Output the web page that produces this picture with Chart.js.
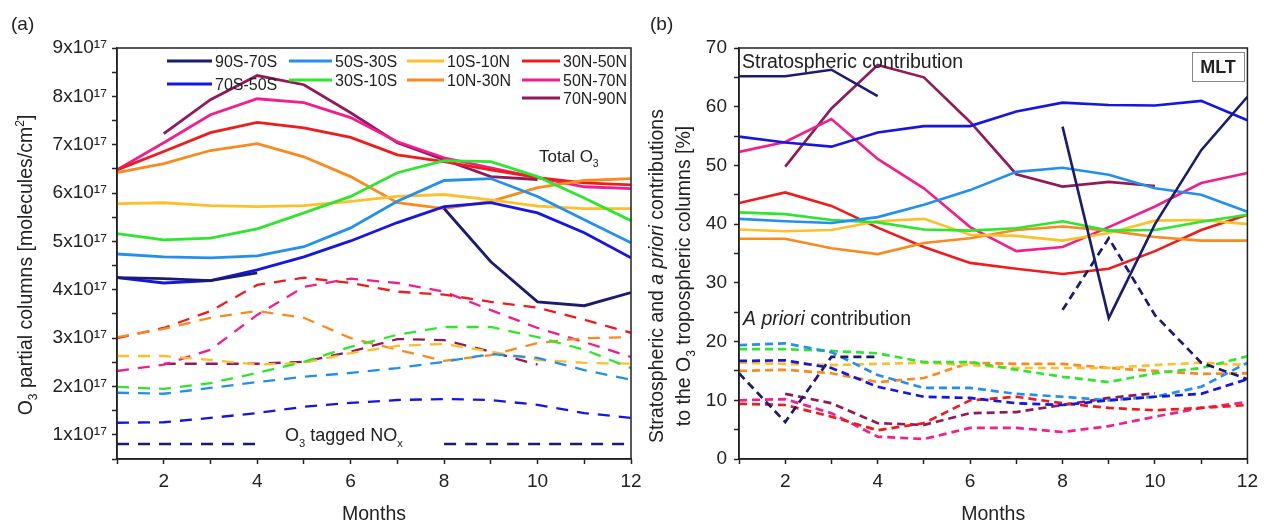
<!DOCTYPE html>
<html>
<head>
<meta charset="utf-8">
<script src="https://cdn.jsdelivr.net/npm/chart.js@4.4.0/dist/chart.umd.min.js"></script>
<style>
  html, body { margin: 0; padding: 0; background: #fff; }
  body { width: 1264px; height: 526px; position: relative; overflow: hidden; }
  canvas { position: absolute; top: 0; }
  #chartA { left: 0; }
  #chartB { left: 640px; }
</style>
</head>
<body>
<canvas id="chartA" width="652" height="526"></canvas>
<canvas id="chartB" width="624" height="526"></canvas>
<script>
// months on the x axis
var months = [1, 2, 3, 4, 5, 6, 7, 8, 9, 10, 11, 12];

var regions = ["90S-70S", "70S-50S", "50S-30S", "30S-10S", "10S-10N",
               "10N-30N", "30N-50N", "50N-70N", "70N-90N"];
var regionColors = ["#1b1b72", "#1515e6", "#2390f0", "#2ee62e", "#fdc02a",
                    "#fb8a1e", "#ee1c1c", "#f21e8c", "#92195a"];

// (a) total O3 partial columns, x10^17 molecules/cm2, one row per region
var totalO3 = [
  [4.25, 4.23, 4.19, 4.35, null, null, null, 5.68, 4.58, 3.75, 3.67, 3.94],
  [4.25, 4.14, 4.19, 4.41, 4.68, 5.01, 5.39, 5.72, 5.80, 5.59, 5.18, 4.66],
  [4.74, 4.68, 4.66, 4.70, 4.89, 5.28, 5.83, 6.26, 6.30, 5.93, 5.45, 4.97],
  [5.16, 5.03, 5.07, 5.26, 5.59, 5.93, 6.42, 6.67, 6.65, 6.34, 5.90, 5.43],
  [5.78, 5.80, 5.74, 5.72, 5.74, 5.83, 5.93, 5.97, 5.86, 5.73, 5.68, 5.68],
  [6.42, 6.61, 6.88, 7.02, 6.75, 6.34, 5.80, 5.68, 5.83, 6.11, 6.26, 6.30],
  [6.48, 6.86, 7.25, 7.46, 7.35, 7.15, 6.79, 6.65, 6.48, 6.32, 6.21, 6.17],
  [6.48, 7.04, 7.62, 7.95, 7.87, 7.56, 7.06, 6.73, 6.52, 6.32, 6.13, 6.09],
  [null, 7.23, 7.93, 8.43, 8.24, 7.66, 7.04, 6.69, 6.34, 6.28, null, null]
];

// (a) O3 tagged NOx, x10^17 molecules/cm2
var taggedNOx = [
  [0.81, 0.81, 0.81, 0.81, null, null, null, 0.81, 0.81, 0.81, 0.81, 0.81],
  [1.25, 1.26, 1.35, 1.45, 1.58, 1.66, 1.72, 1.74, 1.72, 1.62, 1.45, 1.35],
  [1.87, 1.85, 1.97, 2.09, 2.20, 2.28, 2.38, 2.51, 2.67, 2.59, 2.34, 2.14],
  [1.99, 1.95, 2.07, 2.28, 2.51, 2.82, 3.07, 3.23, 3.23, 3.02, 2.76, 2.38],
  [2.63, 2.63, 2.55, 2.45, 2.49, 2.69, 2.84, 2.88, 2.72, 2.55, 2.49, 2.47],
  [3.02, 3.19, 3.42, 3.56, 3.42, 3.00, 2.76, 2.53, 2.65, 2.90, 3.00, 3.02],
  [3.00, 3.21, 3.56, 4.10, 4.25, 4.14, 3.96, 3.90, 3.75, 3.63, 3.38, 3.11],
  [2.32, 2.45, 2.76, 3.48, 4.06, 4.23, 4.14, 3.96, 3.58, 3.21, 2.92, 2.61],
  [null, 2.47, 2.47, 2.47, 2.51, 2.72, 2.98, 2.96, 2.72, 2.45, null, null]
];

// (b) stratospheric contribution, %
var stratContrib = [
  [65.2, 65.2, 66.3, 61.8, null, null, null, 56.6, 24.0, 40.0, 52.6, 61.7],
  [54.9, 53.9, 53.2, 55.6, 56.7, 56.7, 59.2, 60.7, 60.3, 60.2, 61.0, 57.7],
  [40.9, 40.5, 40.2, 41.2, 43.3, 45.8, 48.9, 49.6, 48.4, 46.1, 45.0, 42.1],
  [42.0, 41.7, 40.7, 40.3, 39.1, 38.9, 39.3, 40.5, 38.9, 39.0, 40.4, 41.6],
  [39.1, 38.8, 39.0, 40.5, 40.9, 38.2, 38.0, 37.2, 38.5, 40.6, 40.7, 40.0],
  [37.5, 37.5, 35.9, 34.9, 36.8, 37.6, 39.0, 39.6, 38.9, 37.8, 37.2, 37.2],
  [43.6, 45.4, 43.1, 39.4, 36.1, 33.4, 32.4, 31.5, 32.4, 35.4, 39.0, 41.6],
  [52.3, 54.0, 57.9, 51.1, 46.1, 39.5, 35.4, 36.1, 39.5, 43.0, 47.0, 48.7],
  [null, 49.8, 59.7, 67.1, 65.0, 57.4, 48.5, 46.4, 47.2, 46.5, null, null]
];

// (b) a priori contribution, %
var aprioriContrib = [
  [14.6, 6.3, 17.4, 17.4, null, null, null, 25.4, 37.6, 24.5, 16.4, 13.6],
  [16.7, 16.8, 15.5, 12.3, 10.6, 10.4, 9.5, 9.2, 10.0, 10.6, 11.1, 13.6],
  [19.4, 19.7, 18.2, 14.3, 12.1, 12.1, 11.1, 10.6, 10.0, 10.6, 12.3, 16.4],
  [18.7, 18.7, 18.4, 18.0, 16.5, 16.5, 15.2, 14.0, 13.1, 14.6, 15.5, 17.5],
  [16.4, 16.2, 16.0, 16.2, 16.4, 16.0, 15.5, 15.5, 15.5, 16.0, 16.4, 16.0],
  [15.0, 15.2, 14.6, 13.1, 13.8, 16.4, 16.2, 16.2, 15.5, 15.0, 14.5, 14.6],
  [9.4, 9.2, 7.2, 4.9, 6.1, 10.0, 10.6, 9.5, 8.7, 8.3, 8.7, 9.2],
  [10.0, 10.2, 7.8, 3.8, 3.4, 5.3, 5.3, 4.6, 5.6, 7.2, 8.7, 9.7],
  [null, 11.1, 9.5, 6.1, 5.8, 7.8, 8.0, 9.2, 10.4, 11.2, null, null]
];

// tick positions
var yTicksA = [0.5, 1, 1.5, 2, 2.5, 3, 3.5, 4, 4.5, 5, 5.5, 6, 6.5, 7, 7.5, 8, 8.5, 9];
var yTicksB = [0, 5, 10, 15, 20, 25, 30, 35, 40, 45, 50, 55, 60, 65, 70];

var FONT = 'Arial, "Liberation Sans", sans-serif';
var INK = "#222";

function makeSets(rows, dash, width) {
  return rows.map(function (row, i) {
    return {
      label: regions[i],
      data: months.map(function (m, k) { return {x: m, y: row[k]}; }),
      borderColor: regionColors[i],
      borderWidth: width,
      borderDash: dash,
      pointRadius: 0,
      tension: 0,
      fill: false
    };
  });
}

// text with sub/superscripts and italic/bold runs; y is the vertical middle
function drawRich(ctx, parts, x, y, size, opt) {
  opt = opt || {};
  ctx.save();
  ctx.translate(x, y);
  if (opt.rotate) ctx.rotate(opt.rotate);
  ctx.textBaseline = "alphabetic";
  ctx.textAlign = "left";
  ctx.fillStyle = INK;
  var items = parts.map(function (p) {
    if (typeof p === "string") p = {t: p};
    var s = (p.sub || p.sup) ? size * 0.62 : size;
    var f = (p.i ? "italic " : "") + (p.b ? "bold " : "") + s + "px " + FONT;
    ctx.font = f;
    return {t: p.t, f: f, w: ctx.measureText(p.t).width,
            dy: p.sub ? size * 0.28 : (p.sup ? -size * 0.42 : 0)};
  });
  var total = 0;
  items.forEach(function (it) { total += it.w; });
  var cx = opt.align === "center" ? -total / 2 : 0;
  items.forEach(function (it) {
    ctx.font = it.f;
    ctx.fillText(it.t, cx, size * 0.36 + it.dy);
    cx += it.w;
  });
  ctx.restore();
}

function frame(chart) {
  var a = chart.chartArea, ctx = chart.ctx;
  ctx.save();
  ctx.strokeStyle = INK;
  ctx.lineWidth = 1.5;
  ctx.strokeRect(a.left, a.top, a.right - a.left, a.bottom - a.top);
  ctx.restore();
}

function xAxis() {
  return {
    type: "linear", min: 1, max: 12,
    afterBuildTicks: function (ax) { ax.ticks = months.map(function (m) { return {value: m}; }); },
    afterFit: function (ax) { ax.height = 67; },
    ticks: {
      autoSkip: false, maxRotation: 0, padding: 6, color: INK,
      font: {size: 19, family: FONT},
      callback: function (v) { return v % 2 === 0 ? String(v) : ""; }
    },
    grid: {drawOnChartArea: false, drawTicks: true, tickLength: 5, color: INK, tickWidth: 1.5},
    border: {display: true, color: INK, width: 1.5},
    title: {display: true, text: "Months", color: INK, font: {size: 19.5, family: FONT},
            padding: {top: 0, bottom: 0}}
  };
}

// legend slots of panel (a): x, y, line length
var legendSlots = [[167, 61, 45], [167, 84, 45], [289, 61, 43], [289, 80, 43],
                   [407, 61, 37], [407, 80, 37], [522, 61, 38], [522, 80, 38], [522, 98, 38]];

var decorA = {
  id: "decorA",
  afterDraw: function (chart) {
    var ctx = chart.ctx;
    frame(chart);
    drawRich(ctx, ["(a)"], 11, 23, 19);
    drawRich(ctx, ["Total O", {t: "3", sub: true}], 539, 156, 17);
    drawRich(ctx, ["O", {t: "3", sub: true}, " tagged NO", {t: "x", sub: true}], 285, 435, 18);
    drawRich(ctx, ["O", {t: "3", sub: true}, " partial columns [molecules/cm", {t: "2", sup: true}, "]"],
             25, 265, 19.5, {rotate: -Math.PI / 2, align: "center"});
    regions.forEach(function (r, i) {
      var s = legendSlots[i];
      ctx.save();
      ctx.strokeStyle = regionColors[i];
      ctx.lineWidth = 3;
      ctx.beginPath();
      ctx.moveTo(s[0], s[1]);
      ctx.lineTo(s[0] + s[2], s[1]);
      ctx.stroke();
      ctx.restore();
      drawRich(ctx, [r], s[0] + s[2] + 3, s[1], 16);
    });
  }
};

var decorB = {
  id: "decorB",
  afterDraw: function (chart) {
    var ctx = chart.ctx;
    frame(chart);
    drawRich(ctx, ["(b)"], 10, 23, 19);
    drawRich(ctx, ["Stratospheric contribution"], 102, 61, 19.5);
    drawRich(ctx, [{t: "A priori", i: true}, " contribution"], 103, 318, 19.5);
    ctx.save();
    ctx.strokeStyle = "#888";
    ctx.lineWidth = 1;
    ctx.strokeRect(552.5, 52.5, 52, 29);
    ctx.restore();
    drawRich(ctx, [{t: "MLT", b: true}], 578, 67, 18, {align: "center"});
    drawRich(ctx, ["Stratospheric and ", {t: "a priori", i: true}, " contributions"],
             16, 276, 19.5, {rotate: -Math.PI / 2, align: "center"});
    drawRich(ctx, ["to the O", {t: "3", sub: true}, " tropospheric columns [%]"],
             43, 276, 19.5, {rotate: -Math.PI / 2, align: "center"});
  }
};

var chartA = new Chart(document.getElementById("chartA"), {
  type: "line",
  data: {datasets: makeSets(taggedNOx, [12, 9], 2.3).concat(makeSets(totalO3, [], 2.8))},
  options: {
    responsive: false,
    animation: false,
    layout: {padding: {left: 0, top: 48, right: 21, bottom: 0}},
    plugins: {legend: {display: false}, tooltip: {enabled: false}},
    scales: {
      x: xAxis(),
      y: {
        type: "linear", min: 0.5, max: 9,
        afterBuildTicks: function (ax) { ax.ticks = yTicksA.map(function (v) { return {value: v}; }); },
        afterFit: function (ax) { ax.width = 117; },
        ticks: {
          autoSkip: false, padding: 5, color: INK, font: {size: 19, family: FONT},
          callback: function (v) {
            return Math.abs(v - Math.round(v)) < 1e-9 ? Math.round(v) + "x10\u00B9\u2077" : "";
          }
        },
        grid: {drawOnChartArea: false, drawTicks: true, tickLength: 5, color: INK, tickWidth: 1.5},
        border: {display: true, color: INK, width: 1.5}
      }
    }
  },
  plugins: [decorA]
});

var chartB = new Chart(document.getElementById("chartB"), {
  type: "line",
  data: {datasets: makeSets(aprioriContrib, [8, 5], 2.7).concat(makeSets(stratContrib, [], 2.6))},
  options: {
    responsive: false,
    animation: false,
    layout: {padding: {left: 0, top: 48, right: 12, bottom: 0}},
    plugins: {legend: {display: false}, tooltip: {enabled: false}},
    scales: {
      x: xAxis(),
      y: {
        type: "linear", min: 0, max: 70,
        afterBuildTicks: function (ax) { ax.ticks = yTicksB.map(function (v) { return {value: v}; }); },
        afterFit: function (ax) { ax.width = 99; },
        ticks: {
          autoSkip: false, padding: 7, color: INK, font: {size: 19, family: FONT},
          callback: function (v) { return v % 10 === 0 ? String(v) : ""; }
        },
        grid: {drawOnChartArea: false, drawTicks: true, tickLength: 5, color: INK, tickWidth: 1.5},
        border: {display: true, color: INK, width: 1.5}
      }
    }
  },
  plugins: [decorB]
});
</script>
</body>
</html>
